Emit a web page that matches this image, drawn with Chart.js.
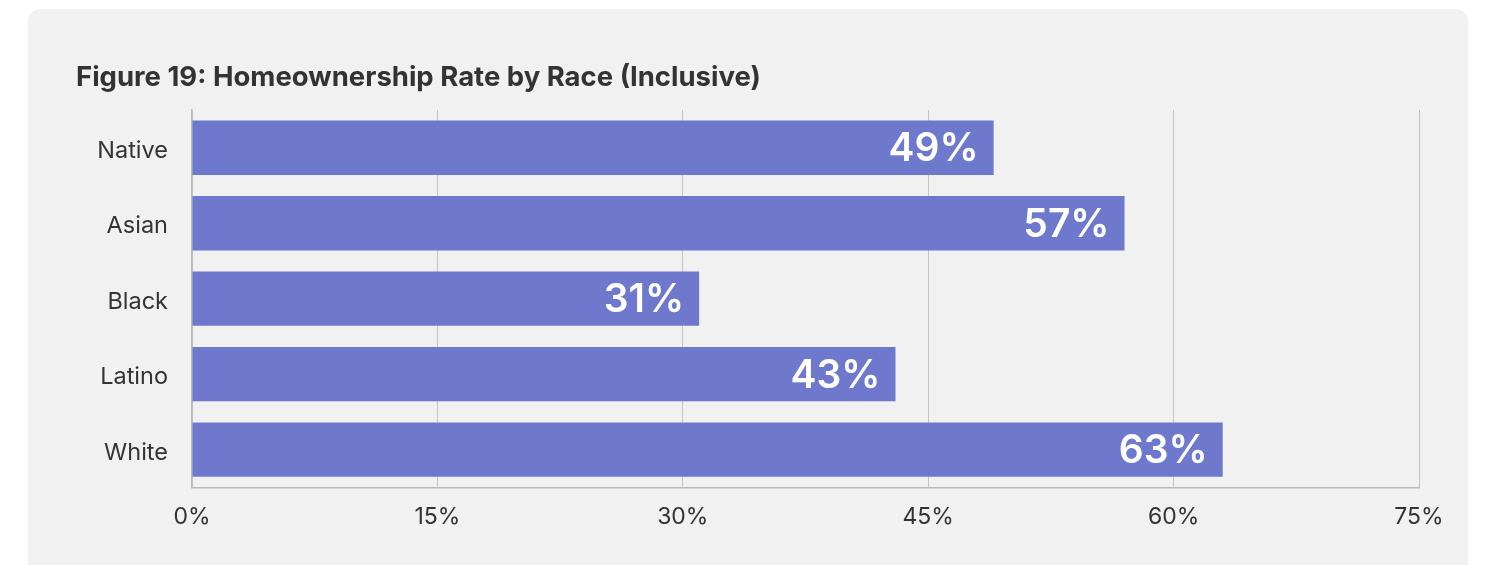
<!DOCTYPE html>
<html>
<head>
<meta charset="utf-8">
<title>Homeownership Rate by Race</title>
<script src="https://cdn.jsdelivr.net/npm/chart.js@4"></script>
<style>
    html, body { margin: 0; padding: 0; background: #ffffff; }
    .panel {
        position: absolute;
        left: 28px;
        top: 9px;
        width: 1440px;
        height: 600px;
        background: #f1f1f1;
        border-radius: 12px;
    }
    #chart { display: block; }
</style>
</head>
<body>
<div class="panel">
    <canvas id="chart" width="1440" height="556"></canvas>
</div>
<script>
// Homeownership rate (%) by race
const races = ['Native', 'Asian', 'Black', 'Latino', 'White'];
const rates = [49, 57, 31, 43, 63];
const axisTicks = [0, 15, 30, 45, 60, 75];

const barColor = '#6e78cc';
const textColor = '#333333';

// draws the white value label inside the end of each bar
const barLabels = {
    id: 'barLabels',
    afterDatasetsDraw(chart) {
        const ctx = chart.ctx;
        const meta = chart.getDatasetMeta(0);
        ctx.save();
        ctx.fillStyle = '#ffffff';
        ctx.font = '600 39px Inter';
        ctx.textAlign = 'right';
        ctx.textBaseline = 'middle';
        meta.data.forEach(function (bar, i) {
            ctx.fillText(rates[i] + '%', bar.x - 15, bar.y + 2);
        });
        ctx.restore();
    }
};

const chart = new Chart(document.getElementById('chart').getContext('2d'), {
    type: 'bar',
    data: {
        labels: races,
        datasets: [{
            data: rates,
            backgroundColor: barColor,
            borderWidth: 0,
            categoryPercentage: 0.9,
            barPercentage: 0.8
        }]
    },
    options: {
        indexAxis: 'y',
        responsive: false,
        animation: false,
        layout: {
            padding: { left: 48, right: 49, top: 40, bottom: 18 }
        },
        scales: {
            x: {
                min: 0,
                max: 75,
                afterBuildTicks: function (scale) {
                    scale.ticks = axisTicks.map(function (v) { return { value: v }; });
                },
                ticks: {
                    color: textColor,
                    padding: 16,
                    font: { family: 'Inter', size: 23 },
                    callback: function (v) { return v + '%'; }
                },
                grid: {
                    color: '#c4c4c4',
                    lineWidth: 1,
                    drawTicks: false
                },
                border: { color: '#b9b9b9', width: 1.5 }
            },
            y: {
                afterFit: function (scale) { scale.width = 116; },
                ticks: {
                    color: textColor,
                    padding: 24,
                    labelOffset: 3,
                    font: { family: 'Inter', size: 23.5 }
                },
                grid: { display: false, drawTicks: false },
                border: { color: '#b9b9b9', width: 1.5 }
            }
        },
        plugins: {
            legend: { display: false },
            tooltip: { enabled: false },
            title: {
                display: true,
                text: 'Figure 19: Homeownership Rate by Race (Inclusive)',
                align: 'start',
                color: textColor,
                font: { family: 'Inter', size: 27.5, weight: '700' },
                padding: { top: 12, bottom: 16 }
            }
        }
    },
    plugins: [barLabels]
});
</script>
</body>
</html>
